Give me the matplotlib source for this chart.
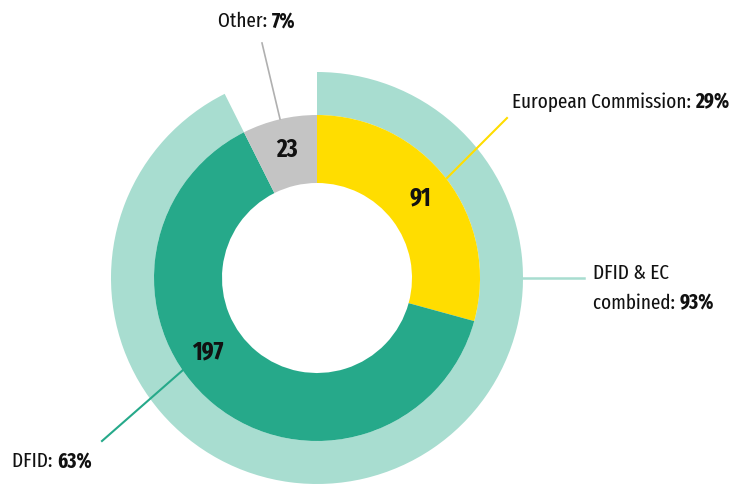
import matplotlib.pyplot as plt

plt.rcParams['font.family'] = ['Fira Sans Extra Condensed', 'DejaVu Sans']

# inner ring: funding by source
sources = ["European Commission", "DFID", "Other"]
counts = [91, 197, 23]
colors = ["#FFDD00", "#26A98A", "#C4C4C4"]
ring_color = "#A8DDD0"

# outer ring: DFID & EC combined vs the rest
combined = [counts[0] + counts[1], counts[2]]

total = sum(counts)
pct = [round(100 * c / total) for c in counts]
pct_combined = round(100 * combined[0] / total)

fig = plt.figure(figsize=(7.32, 4.84), dpi=100)
ax = fig.add_axes([0, 0, 1, 1])

# work in pixel units, y measured from the top
H = 484
def Y(y):
    return H - y

cx, cy = 317, Y(278)
ax.pie(combined, radius=206, center=(cx, cy), startangle=90, counterclock=False,
       colors=[ring_color, "none"], wedgeprops=dict(width=43, linewidth=0), frame=True)
ax.pie(counts, radius=163, center=(cx, cy), startangle=90, counterclock=False,
       colors=colors, wedgeprops=dict(width=68, linewidth=0), frame=True)

ax.set_xlim(0, 732)
ax.set_ylim(0, H)
ax.set_aspect('equal')
ax.axis('off')

num_style = dict(fontsize=18, fontweight='bold', ha='center', va='center', color='#111111')
ax.text(420, Y(198), str(counts[0]), **num_style)
ax.text(208, Y(352), str(counts[1]), **num_style)
ax.text(287, Y(150), str(counts[2]), **num_style)

lab = dict(fontsize=15, color='#111111', va='center')

def label(x, y, name, value):
    # regular name followed by bold percentage
    txt = ax.text(x, Y(y), name, ha='left', **lab)
    fig.canvas.draw()
    bb = txt.get_window_extent()
    x2 = ax.transData.inverted().transform((bb.x1, bb.y0))[0]
    ax.text(x2, Y(y), value, ha='left', fontweight='bold', **lab)

# Other
ax.plot([262, 280], [Y(43), Y(119)], color='#B0B0B0', lw=1.2)
label(218, 21, "Other: ", f"{pct[2]}%")

# European Commission
ax.plot([507, 447], [Y(118), Y(178)], color=colors[0], lw=1.5)
label(512, 102, "European Commission: ", f"{pct[0]}%")

# DFID & EC combined
ax.plot([523, 584], [Y(278), Y(278)], color=ring_color, lw=1.8)
ax.text(593, Y(273), "DFID & EC", ha='left', **lab)
label(593, 303, "combined: ", f"{pct_combined}%")

# DFID
ax.plot([183, 102], [Y(370), Y(441)], color=colors[1], lw=1.5)
label(12, 461, "DFID: ", f"{pct[1]}%")

plt.savefig("out.png", dpi=100)
